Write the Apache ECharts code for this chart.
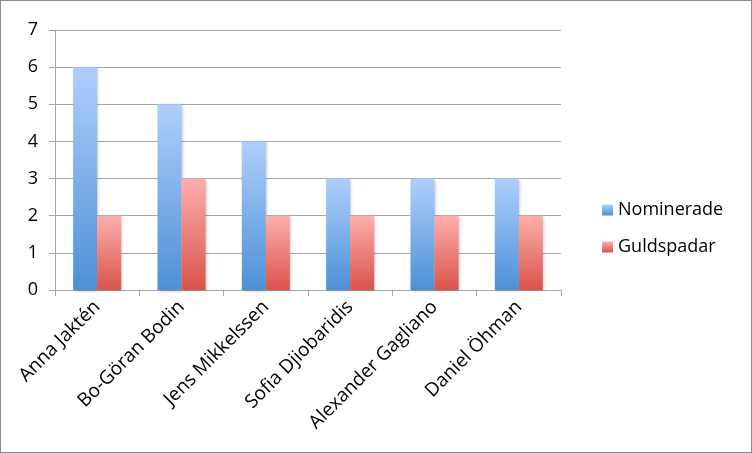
<!DOCTYPE html>
<html><head><meta charset="utf-8">
<script src="https://cdn.jsdelivr.net/npm/echarts@6/dist/echarts.min.js"></script>
<style>html,body{margin:0;padding:0;background:#fff}#c{width:752px;height:453px;box-sizing:border-box;border:1px solid #8c8c8c}</style>
</head><body><div id="c"></div>
<script>
const categories = ["Anna Jaktén","Bo-Göran Bodin","Jens Mikkelssen","Sofia Djiobaridis","Alexander Gagliano","Daniel Öhman"];
const nominerade = [6,5,4,3,3,3];
const guldspadar = [2,3,2,2,2,2];
const yTicks = [0,1,2,3,4,5,6,7];

const chart = echarts.init(document.getElementById('c'), null, {renderer:'canvas'});
const font = "'Open Sans', 'Liberation Sans', sans-serif";
function grad(top, bottom){
  return new echarts.graphic.LinearGradient(0,0,0,1,[{offset:0,color:top},{offset:1,color:bottom}]);
}
chart.setOption({
  animation:false,
  textStyle:{fontFamily:font},
  grid:{left:54,right:190,top:29,bottom:162,containLabel:false},
  legend:{
    orient:'vertical', left:596, top:195, itemGap:19, itemWidth:11, itemHeight:11,
    icon:'rect', textStyle:{fontSize:18,color:'#000',fontFamily:font},
    data:['Nominerade','Guldspadar']
  },
  xAxis:{
    type:'category', data:categories,
    axisLine:{lineStyle:{color:'#a6a6a6'}},
    axisTick:{show:true,length:6,lineStyle:{color:'#a6a6a6'}},
    axisLabel:{rotate:45,fontSize:19,color:'#000',margin:14,interval:0,fontFamily:font}
  },
  yAxis:{
    type:'value', min:yTicks[0], max:yTicks[yTicks.length-1], interval:1,
    axisLine:{show:true,lineStyle:{color:'#a6a6a6'}},
    axisTick:{show:true,length:6,lineStyle:{color:'#a6a6a6'}},
    splitLine:{lineStyle:{color:'#a6a6a6'}},
    axisLabel:{fontSize:18,color:'#000',margin:17,fontFamily:font}
  },
  series:[
    {name:'Nominerade',type:'bar',data:nominerade,barWidth:24,barGap:'0%',
     itemStyle:{color:grad('#aecffd','#4d90d6'),shadowColor:'rgba(0,0,0,0.25)',shadowBlur:3,shadowOffsetX:1,shadowOffsetY:1}},
    {name:'Guldspadar',type:'bar',data:guldspadar,barWidth:24,barGap:'0%',
     itemStyle:{color:grad('#fdafac','#d9534b'),shadowColor:'rgba(0,0,0,0.25)',shadowBlur:3,shadowOffsetX:1,shadowOffsetY:1}}
  ]
});
</script></body></html>
